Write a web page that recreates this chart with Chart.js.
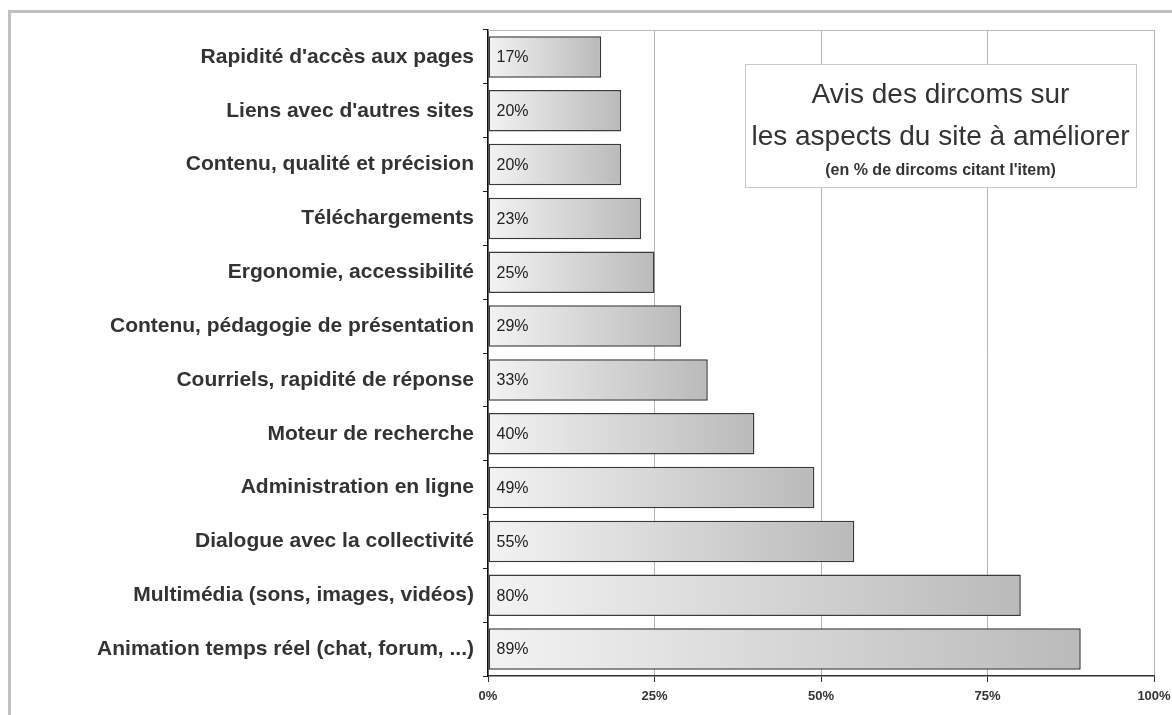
<!DOCTYPE html>
<html lang="fr">
<head>
<meta charset="utf-8">
<title>Avis des dircoms sur les aspects du site à améliorer</title>
<script src="https://cdn.jsdelivr.net/npm/chart.js@4/dist/chart.umd.min.js"></script>
<style>
  html, body {
    margin: 0;
    padding: 0;
    background: #fff;
    overflow: hidden;
  }
  #frame {
    position: absolute;
    left: 8px;
    top: 10px;
    width: 1300px;
    height: 900px;
    border: 3px solid #c0c0c0;
  }
  #wrap {
    position: absolute;
    left: 0;
    top: 0;
    width: 1172px;
    height: 715px;
  }
</style>
</head>
<body>
<div id="frame"></div>
<div id="wrap"><canvas id="barGraph"></canvas></div>
<script>
const categories = [
  "Rapidité d'accès aux pages",
  "Liens avec d'autres sites",
  "Contenu, qualité et précision",
  "Téléchargements",
  "Ergonomie, accessibilité",
  "Contenu, pédagogie de présentation",
  "Courriels, rapidité de réponse",
  "Moteur de recherche",
  "Administration en ligne",
  "Dialogue avec la collectivité",
  "Multimédia (sons, images, vidéos)",
  "Animation temps réel (chat, forum, ...)",
];
const percentages = [17, 20, 20, 23, 25, 29, 33, 40, 49, 55, 80, 89];

const axisMin = 0;
const axisMax = 100;
const axisStep = 25;

const titleLines = ["Avis des dircoms sur", "les aspects du site à améliorer"];
const subtitle = "(en % de dircoms citant l'item)";

const FONT = "'Liberation Sans', Arial, Helvetica, sans-serif";

// each bar fades from light grey at 0 to a darker grey at its own end
const barGradient = (context) => {
  const chart = context.chart;
  if (!chart.chartArea || context.raw === undefined) {
    return "#d8d8d8";
  }
  const xScale = chart.scales.x;
  const x0 = xScale.getPixelForValue(0);
  const x1 = xScale.getPixelForValue(context.raw);
  const gradient = chart.ctx.createLinearGradient(x0, 0, x1, 0);
  gradient.addColorStop(0, "#f3f3f3");
  gradient.addColorStop(1, "#bababa");
  return gradient;
};

// top edge of the plot area
const plotFrame = {
  id: "plotFrame",
  beforeDatasetsDraw(chart) {
    const { ctx, chartArea } = chart;
    ctx.save();
    ctx.strokeStyle = "#bcbcbc";
    ctx.lineWidth = 1;
    ctx.beginPath();
    ctx.moveTo(chartArea.left, chartArea.top + 0.5);
    ctx.lineTo(chartArea.right, chartArea.top + 0.5);
    ctx.stroke();
    ctx.restore();
  },
};

// percentage written at the start of every bar
const valueLabels = {
  id: "valueLabels",
  afterDatasetsDraw(chart) {
    const { ctx } = chart;
    const meta = chart.getDatasetMeta(0);
    ctx.save();
    ctx.font = `16px ${FONT}`;
    ctx.fillStyle = "#222";
    ctx.textAlign = "left";
    ctx.textBaseline = "middle";
    meta.data.forEach((bar, i) => {
      ctx.fillText(`${percentages[i]}%`, bar.base + 8, bar.y + 1);
    });
    ctx.restore();
  },
};

// boxed title sitting over the grid
const titleBox = {
  id: "titleBox",
  afterDatasetsDraw(chart) {
    const { ctx } = chart;
    const left = 745, top = 64, width = 391, height = 123;
    const cx = left + width / 2;
    ctx.save();
    ctx.fillStyle = "#fff";
    ctx.fillRect(left, top, width, height);
    ctx.strokeStyle = "#c8c8c8";
    ctx.lineWidth = 1;
    ctx.strokeRect(left + 0.5, top + 0.5, width, height);
    ctx.fillStyle = "#333";
    ctx.textAlign = "center";
    ctx.textBaseline = "alphabetic";
    ctx.font = `28px ${FONT}`;
    ctx.fillText(titleLines[0], cx, top + 39);
    ctx.fillText(titleLines[1], cx, top + 81);
    ctx.font = `bold 16px ${FONT}`;
    ctx.fillText(subtitle, cx, top + 111);
    ctx.restore();
  },
};

const ctx = document.getElementById("barGraph").getContext("2d");

new Chart(ctx, {
  type: "bar",
  data: {
    labels: categories,
    datasets: [
      {
        data: percentages,
        backgroundColor: barGradient,
        borderColor: "#3a3a3a",
        borderWidth: 1.5,
        borderSkipped: false,
        barPercentage: 0.77,
        categoryPercentage: 1,
      },
    ],
  },
  options: {
    indexAxis: "y",
    responsive: true,
    maintainAspectRatio: false,
    animation: false,
    layout: {
      padding: { top: 30, right: 18, left: 0, bottom: 0 },
    },
    plugins: {
      legend: { display: false },
      tooltip: { enabled: false },
    },
    scales: {
      x: {
        min: axisMin,
        max: axisMax,
        afterFit: (scale) => {
          scale.height = 39;
          // let the "100%" label hang over the right padding
          scale.paddingLeft = 0;
          scale.paddingRight = 0;
        },
        ticks: {
          stepSize: axisStep,
          padding: 7,
          color: "#333",
          font: { family: FONT, size: 13, weight: "bold" },
          callback: (value) => `${value}%`,
        },
        grid: {
          color: "#b4b4b4",
          lineWidth: 1,
          tickLength: 6,
          tickColor: "#333",
        },
        border: { display: true, color: "#333", width: 1.5 },
      },
      y: {
        afterFit: (scale) => {
          scale.width = 488;
        },
        ticks: {
          padding: 9,
          color: "#333",
          font: { family: FONT, size: 21, weight: "bold" },
        },
        grid: {
          offset: true,
          drawOnChartArea: false,
          tickLength: 5,
          tickColor: "#222",
        },
        border: { display: true, color: "#111", width: 1.5 },
      },
    },
  },
  plugins: [plotFrame, valueLabels, titleBox],
});
</script>
</body>
</html>
